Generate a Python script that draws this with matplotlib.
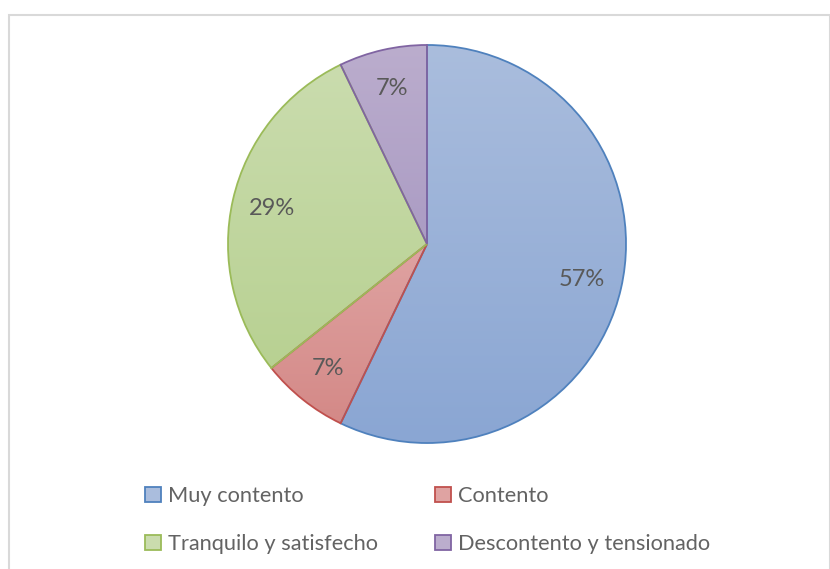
import matplotlib.pyplot as plt
import matplotlib.patches as mpatches
import numpy as np
from matplotlib.colors import LinearSegmentedColormap

categories = ["Muy contento", "Contento", "Tranquilo y satisfecho", "Descontento y tensionado"]
counts = [8, 1, 4, 1]

edge_colors = ["#4f81bd", "#c0504d", "#9bbb59", "#8064a2"]
top_colors = ["#aabddd", "#dfa3a2", "#cadcae", "#bbadcd"]
bottom_colors = ["#8aa6d3", "#d48987", "#b8d192", "#ab9cc4"]

plt.rcParams['font.family'] = ['Lato', 'DejaVu Sans']

fig = plt.figure(figsize=(8.3, 5.69), dpi=100)

# chart area frame (light gray, cut off at bottom)
frame = mpatches.Rectangle((8.5 / 830, -0.05), (829.5 - 8.5) / 830, 1.05 - 14.5 / 569,
                           transform=fig.transFigure, fill=False,
                           edgecolor="#d9d9d9", linewidth=1.5)
fig.add_artist(frame)

ax = fig.add_axes([226 / 830, 124 / 569, 402 / 830, 402 / 569])

wedges, texts, autotexts = ax.pie(
    counts, startangle=90, counterclock=False,
    autopct=lambda p: f"{p:.0f}%", pctdistance=0.8,
    wedgeprops=dict(linewidth=1.3),
    textprops=dict(color="#595959", fontsize=17))

grad = np.linspace(0, 1, 256).reshape(-1, 1)
for w, ec, tc, bc in zip(wedges, edge_colors, top_colors, bottom_colors):
    verts = w.get_path().vertices
    x0, y0 = verts.min(axis=0)
    x1, y1 = verts.max(axis=0)
    cmap = LinearSegmentedColormap.from_list("g", [tc, bc])
    im = ax.imshow(grad, cmap=cmap, extent=(x0, x1, y0, y1),
                   origin="upper", aspect="auto", zorder=1)
    im.set_clip_path(w)
    w.set_facecolor("none")
    w.set_edgecolor(ec)
    w.set_zorder(2)

for t in autotexts:
    t.set_zorder(3)

ax.set_xlim(-1.01, 1.01)
ax.set_ylim(-1.01, 1.01)
ax.set_aspect("equal")

# legend laid out row by row, like the original
order = [0, 2, 1, 3]
handles = [mpatches.Patch(facecolor=top_colors[i], edgecolor=edge_colors[i], linewidth=1.3)
           for i in order]
labels = [categories[i] for i in order]
fig.legend(handles, labels, ncol=2, loc="upper left",
           bbox_to_anchor=(145 / 830, 1 - 486 / 569),
           frameon=False, fontsize=15.7, labelcolor="#636363",
           handlelength=0.72, handleheight=0.72, handletextpad=0.35,
           columnspacing=2.6, labelspacing=1.3, borderaxespad=0,
           borderpad=0)

fig.savefig("out.png", dpi=100)
